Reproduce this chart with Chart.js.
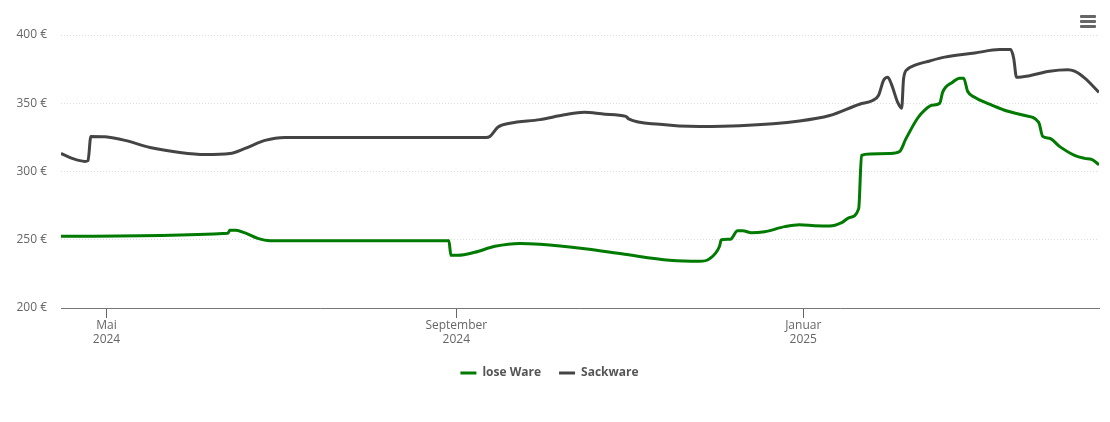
<!DOCTYPE html>
<html>
<head>
<meta charset="utf-8">
<script src="https://cdn.jsdelivr.net/npm/chart.js@4"></script>
<style>
  html, body { margin: 0; padding: 0; background: #fff; }
  #wrap { position: relative; width: 1110px; height: 422px; }
  #menu { position: absolute; left: 1080px; top: 15px; width: 16px; }
  #menu div { height: 3px; background: #666; border-radius: 1px; margin-bottom: 2px; }
</style>
</head>
<body>
<div id="wrap">
  <canvas id="chart" width="1110" height="422"></canvas>
  <div id="menu"><div></div><div></div><div></div></div>
</div>
<script>
// days counted from 15 April 2024
const tickDays = [16, 139, 261];
const tickLabels = [['Mai', '2024'], ['September', '2024'], ['Januar', '2025']];
const yTicks = [200, 250, 300, 350, 400];

const looseDays = [0, 58.7, 59.4, 61.5, 64.7, 69.2, 73.5, 136.4, 137.1, 139.6, 145.5, 152.6, 161.3, 168.4, 184.2, 198.2, 214, 224.5, 228, 231.5, 232.2, 235.4, 237.9, 239.7, 242.8, 247.4, 254.5, 259.7, 265, 270.3, 274.5, 277.3, 280.5, 281.5, 284.4, 291.4, 294.9, 297, 301.2, 303.7, 306.2, 309, 310, 313.5, 316, 317.4, 318.8, 321.3, 326.5, 331.8, 338.9, 343.8, 345.2, 347.6, 351.1, 356.4, 360, 362.4, 365];
const looseValues = [252.6, 254.8, 257, 257, 255, 251, 249.3, 249.3, 238.6, 238.6, 240.8, 245.2, 247.3, 246.7, 243.4, 239.3, 235, 234.2, 236, 244.9, 250, 250.4, 256.6, 256.6, 255.1, 255.9, 259.6, 261, 260.3, 260, 262.5, 266.3, 272.8, 311.8, 312.9, 313.2, 314.7, 323.5, 339, 344.9, 348.5, 350, 358, 365.4, 368.4, 368.4, 358.8, 354.4, 349.3, 344.9, 341, 336, 325.7, 324.3, 318.4, 311.8, 309.6, 308.8, 305];

const sackDays = [0, 3.9, 8.4, 9.5, 10.5, 15.5, 22.5, 31.3, 41.8, 50.6, 59.4, 64.7, 71.7, 78.7, 149.4, 150.8, 153.6, 157.8, 168.4, 177, 184, 191.3, 198.6, 199.6, 210.5, 224.5, 238.6, 259.7, 270.3, 280.8, 285.4, 287.5, 289.3, 290.7, 292, 294.2, 295.6, 296.3, 297.7, 299.5, 305.5, 310.7, 321.3, 330, 333.9, 335, 336, 340.6, 347.6, 354, 356.4, 360, 365];
const sackValues = [313.2, 309.6, 307.4, 308, 325.7, 325.4, 322.8, 317.6, 314, 312.5, 313.2, 316.9, 322.8, 325, 325, 325.7, 332.4, 335.3, 338, 341.5, 343.4, 342, 340.4, 338.6, 334.6, 333, 333.5, 337, 341, 349.3, 352, 355.9, 367, 369, 364, 350.7, 346.3, 368.4, 375, 377.2, 381, 383.8, 386.8, 389.3, 389.3, 383, 369, 370.2, 373.5, 374.6, 373.5, 368.4, 358];

function toPoints(days, values) {
  return days.map((d, i) => ({ x: d, y: values[i] }));
}

Chart.defaults.font.family = '"Open Sans", sans-serif';
Chart.defaults.font.size = 12;
Chart.defaults.color = '#666';

new Chart(document.getElementById('chart'), {
  type: 'line',
  data: {
    datasets: [
      { label: 'lose Ware', data: toPoints(looseDays, looseValues), borderColor: '#007a00', backgroundColor: '#007a00' },
      { label: 'Sackware', data: toPoints(sackDays, sackValues), borderColor: '#444444', backgroundColor: '#444444' }
    ]
  },
  options: {
    responsive: false,
    animation: false,
    layout: { padding: { top: 35, right: 11, bottom: 33, left: 0 } },
    elements: {
      point: { radius: 0 },
      line: { borderWidth: 3, cubicInterpolationMode: 'monotone' }
    },
    scales: {
      x: {
        type: 'linear',
        min: 0,
        max: 365,
        afterBuildTicks: scale => { scale.ticks = tickDays.map(v => ({ value: v })); },
        afterFit: scale => { scale.height = 41; },
        border: { color: '#777', width: 1 },
        grid: { drawOnChartArea: false, tickLength: 10, tickColor: '#666' },
        ticks: {
          autoSkip: false,
          maxRotation: 0,
          padding: 0,
          callback: (v) => tickLabels[tickDays.indexOf(v)]
        }
      },
      y: {
        min: 200,
        max: 400,
        afterBuildTicks: scale => { scale.ticks = yTicks.map(v => ({ value: v })); },
        afterFit: scale => { scale.width = 61; },
        border: { display: false, dash: [1, 2] },
        grid: { color: '#dcdcdc', lineWidth: 1, drawTicks: false },
        ticks: { padding: 14, callback: v => v + ' €' }
      }
    },
    plugins: {
      tooltip: { enabled: false },
      legend: {
        position: 'bottom',
        labels: {
          boxWidth: 16,
          boxHeight: 3,
          padding: 18,
          color: '#555',
          font: { weight: 'bold', size: 12 },
          // no outline around the legend swatch, it should stay a thin line
          generateLabels: chart => Chart.defaults.plugins.legend.labels.generateLabels(chart).map(item => ({ ...item, lineWidth: 0 }))
        }
      }
    }
  }
});
</script>
</body>
</html>
